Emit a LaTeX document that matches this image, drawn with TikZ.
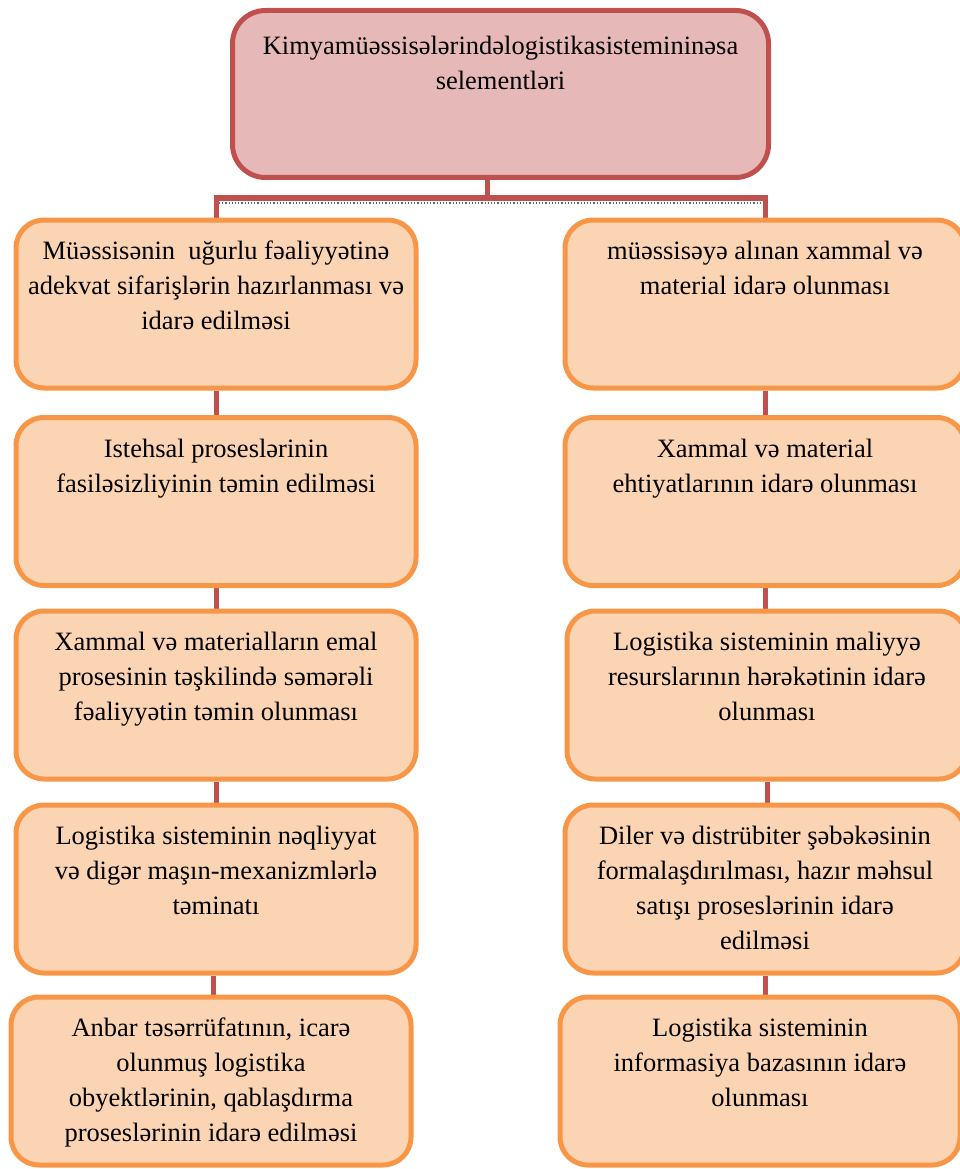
\documentclass[tikz,border=0pt]{standalone}
\usepackage{fontspec}
\setmainfont{Liberation Serif}
\pgfdeclarelayer{bg}
\pgfsetlayers{bg,main}
\definecolor{redline}{HTML}{C0504D}
\definecolor{pinkfill}{HTML}{E6B9B8}
\definecolor{orline}{HTML}{F79646}
\definecolor{orfill}{HTML}{FBD4B4}
\newcommand{\boxtxt}[3][396pt]{\vbox to #2{\hsize=#1\centering\fontsize{26.5}{35}\selectfont\strut #3\par\vfill}}
\tikzset{
  obox/.style={draw=orline, fill=orfill, line width=5pt, rounded corners=28pt, inner sep=0pt, minimum width=400pt, minimum height=168pt},
  tbox/.style={draw=redline, fill=pinkfill, line width=5pt, rounded corners=33pt, inner sep=0pt, minimum width=536pt, minimum height=167pt},
  conn/.style={draw=redline, line width=5pt},
}
\begin{document}
\begin{tikzpicture}[x=1pt,y=-1pt]
\useasboundingbox (0,0) rectangle (960,1169);
\clip (0,0) rectangle (960,1169);
\node[tbox] (top) at (500.5,94) {\boxtxt[530pt]{128pt}{Kimyamüəssisələrindəlogistikasistemininəsa\\selementləri}};
\node[obox] (l1) at (216,304) {\boxtxt{138pt}{Müəssisənin~ uğurlu fəaliyyətinə\\adekvat sifarişlərin hazırlanması və\\idarə edilməsi}};
\node[obox] (l2) at (216,501.5) {\boxtxt{138pt}{Istehsal proseslərinin\\fasiləsizliyinin təmin edilməsi}};
\node[obox] (l3) at (216,695) {\boxtxt{138pt}{Xammal və materialların emal\\prosesinin təşkilində səmərəli\\fəaliyyətin təmin olunması}};
\node[obox] (l4) at (216,889) {\boxtxt{138pt}{Logistika sisteminin nəqliyyat\\və digər maşın-mexanizmlərlə\\təminatı}};
\node[obox] (l5) at (211,1081) {\boxtxt{138pt}{Anbar təsərrüfatının, icarə\\olunmuş logistika\\obyektlərinin, qablaşdırma\\proseslərinin idarə edilməsi}};
\node[obox] (r1) at (765,304) {\boxtxt{138pt}{müəssisəyə alınan xammal və\\material idarə olunması}};
\node[obox] (r2) at (765,501.5) {\boxtxt{138pt}{Xammal və material\\ehtiyatlarının idarə olunması}};
\node[obox] (r3) at (767,695) {\boxtxt{138pt}{Logistika sisteminin maliyyə\\resurslarının hərəkətinin idarə\\olunması}};
\node[obox] (r4) at (765,889) {\boxtxt{138pt}{Diler və distrübiter şəbəkəsinin\\formalaşdırılması, hazır məhsul\\satışı proseslərinin idarə\\edilməsi}};
\node[obox] (r5) at (760,1081) {\boxtxt{138pt}{Logistika sisteminin\\informasiya bazasının idarə\\olunması}};
\coordinate (hub) at (487,198);
\begin{pgfonlayer}{bg}
  \draw[conn] (top.south -| hub) -- (hub);
  \draw[conn] (l1.north) -- (l1.north |- hub) -- (r1.north |- hub) -- (r1.north);
  \draw[black!60, line width=1.2pt, dotted] ([xshift=3pt,yshift=-5pt]l1.north |- hub) -- ([xshift=-3pt,yshift=-5pt]r1.north |- hub);
  \draw[conn] (l1.south) -- (l1.south |- l2.north);
  \draw[conn] (l2.south) -- (l2.south |- l3.north);
  \draw[conn] (l3.south) -- (l3.south |- l4.north);
  \draw[conn] ([xshift=-3pt]l4.south) -- ([xshift=-3pt]l4.south |- l5.north);
  \draw[conn] (r1.south) -- (r1.south |- r2.north);
  \draw[conn] (r2.south) -- (r2.south |- r3.north);
  \draw[conn] (r3.south) -- (r3.south |- r4.north);
  \draw[conn] (r4.south) -- (r4.south |- r5.north);
\end{pgfonlayer}
\end{tikzpicture}
\end{document}
